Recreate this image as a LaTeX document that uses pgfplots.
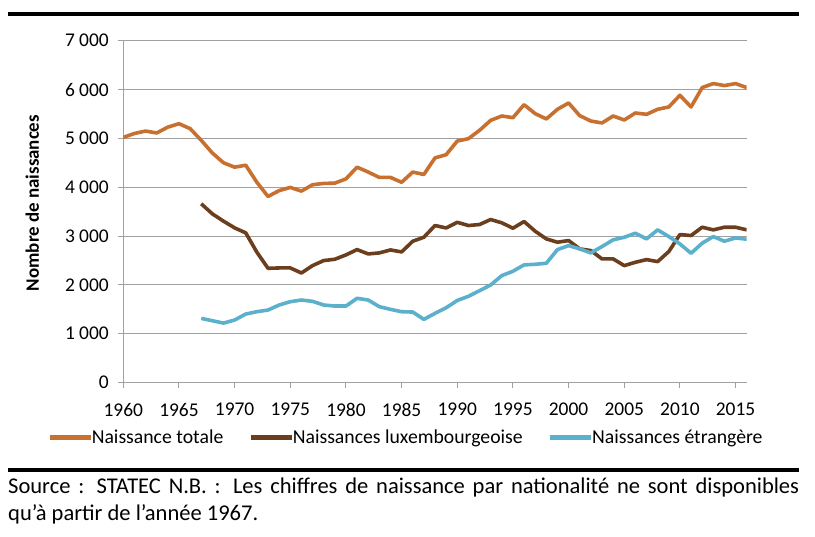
\documentclass[border=0pt]{standalone}
\usepackage{pgfplots}
\pgfplotsset{compat=1.18}
\usepackage{fontspec}
\setmainfont{Carlito}

\definecolor{totc}{HTML}{C8702F}
\definecolor{luxc}{HTML}{6B3E1E}
\definecolor{etrc}{HTML}{5BB0CC}
\definecolor{gridc}{HTML}{A0A0A0}

% naissances totales
\pgfplotstableread{
an n
1960 5020
1961 5100
1962 5150
1963 5110
1964 5230
1965 5300
1966 5200
1967 4960
1968 4700
1969 4500
1970 4410
1971 4450
1972 4100
1973 3810
1974 3930
1975 3995
1976 3920
1977 4050
1978 4077
1979 4083
1980 4170
1981 4410
1982 4310
1983 4200
1984 4200
1985 4100
1986 4310
1987 4260
1988 4600
1989 4665
1990 4945
1991 4993
1992 5164
1993 5369
1994 5458
1995 5424
1996 5690
1997 5506
1998 5397
1999 5595
2000 5725
2001 5465
2002 5355
2003 5315
2004 5458
2005 5376
2006 5520
2007 5492
2008 5595
2009 5643
2010 5882
2011 5643
2012 6040
2013 6122
2014 6081
2015 6122
2016 6040
}\totale

% naissances luxembourgeoises
\pgfplotstableread{
an n
1967 3660
1968 3454
1969 3304
1970 3167
1971 3064
1972 2668
1973 2339
1974 2346
1975 2346
1976 2243
1977 2394
1978 2497
1979 2524
1980 2613
1981 2722
1982 2633
1983 2654
1984 2715
1985 2674
1986 2893
1987 2975
1988 3215
1989 3165
1990 3280
1991 3215
1992 3235
1993 3338
1994 3270
1995 3160
1996 3297
1997 3098
1998 2941
1999 2873
2000 2907
2001 2736
2002 2702
2003 2531
2004 2531
2005 2394
2006 2462
2007 2517
2008 2476
2009 2681
2010 3030
2011 3010
2012 3180
2013 3126
2014 3180
2015 3180
2016 3126
}\lux

% naissances etrangeres
\pgfplotstableread{
an n
1967 1313
1968 1265
1969 1217
1970 1279
1971 1402
1972 1450
1973 1484
1974 1587
1975 1655
1976 1689
1977 1662
1978 1587
1979 1566
1980 1566
1981 1724
1982 1689
1983 1553
1984 1498
1985 1450
1986 1443
1987 1293
1988 1416
1989 1530
1990 1680
1991 1765
1992 1880
1993 1997
1994 2189
1995 2278
1996 2408
1997 2421
1998 2442
1999 2722
2000 2804
2001 2736
2002 2654
2003 2784
2004 2921
2005 2975
2006 3057
2007 2941
2008 3126
2009 2989
2010 2838
2011 2647
2012 2852
2013 2989
2014 2893
2015 2962
2016 2934
}\etr

\begin{document}
\begin{tikzpicture}
\useasboundingbox (-123.3bp,-154.5bp) rectangle (691.7bp,382.5bp);
\begin{axis}[
  at={(0,0)}, anchor=origin,
  scale only axis, width=623.4bp, height=341.8bp,
  xmin=1960, xmax=2016, ymin=0, ymax=7000,
  xtick={1960,1965,...,2015}, ytick={0,1000,...,7000},
  axis x line*=bottom, axis y line*=left,
  axis line style={gridc, line width=1bp},
  tick align=outside, major tick length=5bp,
  tick style={gridc, line width=1bp},
  ymajorgrids, grid style={gridc, line width=1bp},
  font=\fontsize{19.5}{23}\selectfont,
  x tick label style={/pgf/number format/1000 sep=, /pgf/number format/assume math mode=true, yshift=-12bp},
  y tick label style={/pgf/number format/1000 sep={\ }, /pgf/number format/assume math mode=true, xshift=-6bp},
  ylabel={\fontsize{19}{23}\selectfont\bfseries Nombre de naissances},
  ylabel style={at={(axis description cs:-0.146,0.525)}, anchor=center},
  legend style={draw=none, fill=none, at={(-76bp,-55bp)}, anchor=west,
    legend columns=-1, inner sep=0pt, outer sep=0pt,
    nodes={inner sep=0pt}, font=\fontsize{19.8}{24}\selectfont,
    /tikz/every odd column/.append style={column sep=-1bp},
    /tikz/every even column/.append style={column sep=25bp}},
  legend cell align=left,
  legend image code/.code={\draw[#1, line width=4.5bp] (0bp,0bp) -- (41bp,0bp);},
  every axis plot/.append style={line width=3.6bp, line join=round},
]
\addplot[totc] table[x=an, y=n] {\totale};
\addlegendentry{Naissance totale}
\addplot[luxc] table[x=an, y=n] {\lux};
\addlegendentry{Naissances luxembourgeoise}
\addplot[etrc] table[x=an, y=n] {\etr};
\addlegendentry{Naissances étrangère}
\end{axis}
\draw[line width=4bp] (-115.3bp,368.5bp) -- (675.7bp,368.5bp);
\draw[line width=4bp] (-115.3bp,-87.5bp) -- (675.7bp,-87.5bp);
\node[anchor=north west, inner sep=0pt, text width=791bp, align=justify,
  font=\fontsize{22.6}{27}\selectfont] at (-115.3bp,-95bp)
  {Source : STATEC N.B. : Les chiffres de naissance par nationalité ne sont disponibles\linebreak qu’à partir de l’année 1967.};
\end{tikzpicture}
\end{document}
